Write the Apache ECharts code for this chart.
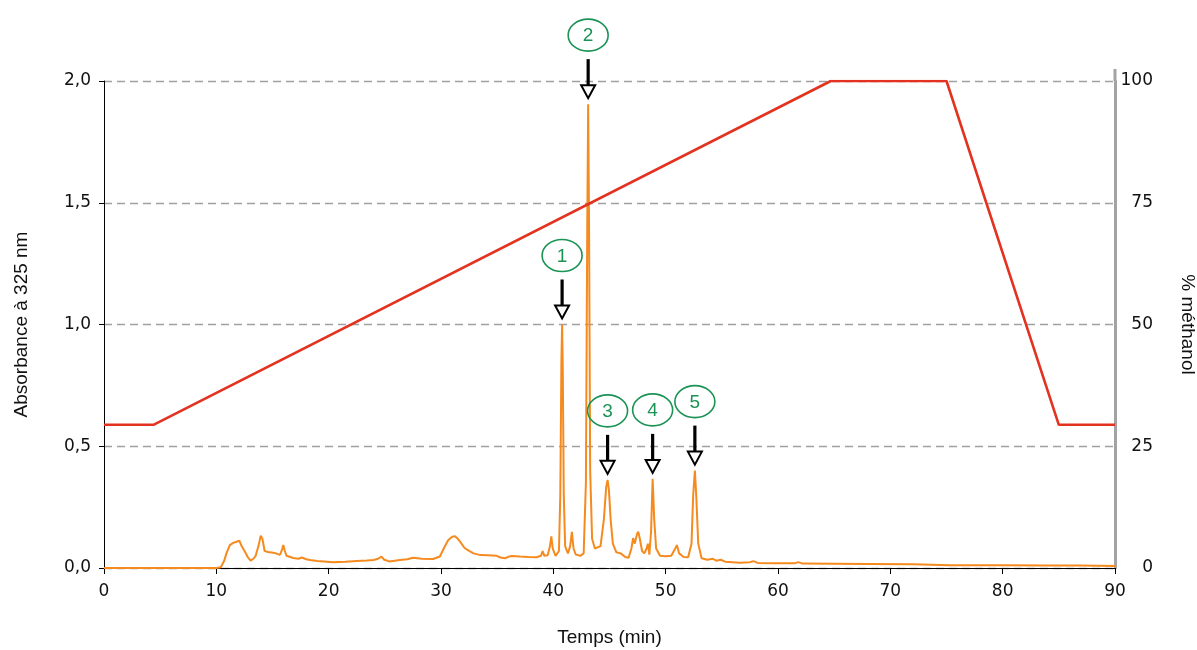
<!DOCTYPE html>
<html>
<head>
<meta charset="utf-8">
<script src="https://cdn.jsdelivr.net/npm/echarts@6/dist/echarts.min.js"></script>
<style>html,body{margin:0;padding:0;background:#fff;}#c{width:1197px;height:650px;}</style>
</head>
<body>
<div id="c"></div>
<script>
// Chromatogram (time in min, absorbance at 325 nm)
const absT = [0,10.0,10.4,10.7,10.9,11.2,11.5,11.8,12.05,12.25,12.55,12.8,13.05,13.3,13.5,13.75,13.95,14.1,14.3,14.6,14.93,15.3,15.66,15.85,15.96,16.1,16.25,16.86,17.3,17.6,18.0,18.34,19.0,20.4,21.5,22.5,23.4,24.0,24.4,24.7,24.95,25.4,26.35,27.0,27.5,28.3,29.3,29.9,30.3,30.65,31.0,31.25,31.5,31.7,32.1,32.5,32.9,33.5,34.2,34.95,35.3,35.7,36.0,36.3,37.0,37.8,38.5,38.9,39.05,39.2,39.5,39.7,39.82,39.95,40.2,40.5,40.62,40.72,40.78,40.84,40.93,41.05,41.3,41.5,41.65,41.8,42.0,42.4,42.7,42.9,43.02,43.1,43.18,43.28,43.45,43.7,44.2,44.5,44.7,44.83,44.95,45.1,45.3,45.6,46.0,46.4,46.7,46.95,47.1,47.25,47.45,47.56,47.7,47.9,48.1,48.3,48.42,48.55,48.7,48.84,48.98,49.15,49.5,50.0,50.5,50.85,51.0,51.2,51.6,52.0,52.3,52.45,52.6,52.72,52.9,53.2,53.7,54.2,54.5,54.9,55.3,56.6,57.5,57.8,58.2,59.6,61.5,61.8,62.2,65.0,68.0,72.0,75.3,80.0,84.0,87.0,90.0];
const absA = [0,0,0.003,0.03,0.06,0.094,0.103,0.108,0.112,0.09,0.067,0.045,0.03,0.038,0.05,0.09,0.133,0.12,0.07,0.066,0.064,0.06,0.054,0.075,0.094,0.07,0.05,0.041,0.038,0.043,0.036,0.033,0.029,0.024,0.026,0.029,0.031,0.033,0.038,0.047,0.034,0.027,0.033,0.036,0.042,0.038,0.037,0.047,0.085,0.115,0.128,0.13,0.12,0.108,0.082,0.07,0.06,0.053,0.052,0.05,0.043,0.04,0.046,0.049,0.047,0.045,0.044,0.05,0.07,0.05,0.052,0.09,0.13,0.08,0.05,0.07,0.3,0.85,1.0,0.82,0.3,0.09,0.06,0.09,0.148,0.08,0.055,0.05,0.06,0.35,1.4,1.905,1.4,0.4,0.12,0.08,0.09,0.2,0.33,0.362,0.32,0.2,0.1,0.065,0.06,0.045,0.042,0.08,0.123,0.1,0.14,0.149,0.12,0.07,0.06,0.08,0.10,0.055,0.15,0.366,0.2,0.08,0.05,0.048,0.05,0.08,0.094,0.06,0.045,0.044,0.1,0.3,0.40,0.3,0.1,0.04,0.034,0.038,0.03,0.034,0.026,0.022,0.024,0.028,0.021,0.019,0.019,0.024,0.018,0.017,0.016,0.015,0.011,0.011,0.010,0.010,0.008];
// Methanol gradient (time in min, % methanol)
const gradT = [0, 4.4, 64.7, 75.0, 85.0, 90];
const gradPct = [29.4, 29.4, 100, 100, 29.4, 29.4];
// Annotated peaks
const peakLabels = ['1', '2', '3', '4', '5'];
const peakTimes = [40.78, 43.1, 44.83, 48.84, 52.6];
const peakHeights = [1.0, 1.905, 0.362, 0.366, 0.40];
// Axis ticks
const xTicks = {min: 0, max: 90, interval: 10};
const yLeftTicks = {min: 0, max: 2, interval: 0.5};
const yRightTicks = {min: 0, max: 100, interval: 25};

const TICKFONT = 'DejaVu Sans';
const TITLEFONT = 'Liberation Sans';
const GREEN = '#1b9355';

const chart = echarts.init(document.getElementById('c'), null, {renderer: 'canvas'});
const option = {
  animation: false,
  backgroundColor: '#fff',
  grid: {left: 104, right: 82, top: 81, bottom: 82, containLabel: false, outerBoundsMode: 'none'},
  xAxis: {
    type: 'value', min: xTicks.min, max: xTicks.max, interval: xTicks.interval,
    name: 'Temps (min)', nameLocation: 'middle', nameGap: 60,
    nameTextStyle: {fontFamily: TITLEFONT, fontSize: 19, color: '#111'},
    axisLine: {lineStyle: {color: '#000', width: 1}},
    axisTick: {show: true, length: 6, lineStyle: {color: '#000'}},
    axisLabel: {fontFamily: TICKFONT, fontSize: 17, color: '#111', margin: 15},
    splitLine: {show: false}
  },
  yAxis: [{
    type: 'value', min: yLeftTicks.min, max: yLeftTicks.max, interval: yLeftTicks.interval,
    name: 'Absorbance à 325 nm', nameLocation: 'middle', nameGap: 73,
    nameTextStyle: {fontFamily: TITLEFONT, fontSize: 19, color: '#111'},
    axisLine: {show: true, lineStyle: {color: '#000', width: 1}},
    axisTick: {show: true, length: 5, lineStyle: {color: '#000'}},
    axisLabel: {fontFamily: TICKFONT, fontSize: 17, color: '#111', margin: 13,
      formatter: v => v.toFixed(1).replace('.', ',')},
    splitLine: {show: true, lineStyle: {color: '#a0a0a0', width: 1.3, type: [8, 5]}}
  }, {
    type: 'value', position: 'right', min: yRightTicks.min, max: yRightTicks.max, interval: yRightTicks.interval,
    name: '% méthanol', nameLocation: 'middle', nameGap: 63, nameRotate: -90,
    nameTextStyle: {fontFamily: TITLEFONT, fontSize: 19, color: '#111'},
    axisLine: {show: true, lineStyle: {color: '#a3a3a3', width: 3}},
    axisTick: {show: false},
    axisLabel: {fontFamily: TICKFONT, fontSize: 17, color: '#111', margin: 38, align: 'right'},
    splitLine: {show: false}
  }],
  series: [{
    type: 'line', name: 'Absorbance', xAxisIndex: 0, yAxisIndex: 0,
    data: absT.map((t, i) => [t, absA[i]]),
    showSymbol: false, symbol: 'none',
    lineStyle: {color: '#f58a1f', width: 2},
    z: 3
  }, {
    type: 'line', name: 'Méthanol', xAxisIndex: 0, yAxisIndex: 1,
    data: gradT.map((t, i) => [t, gradPct[i]]),
    showSymbol: false, symbol: 'none',
    lineStyle: {color: '#e3321f', width: 2.6},
    z: 4
  }, {
    type: 'custom', name: 'Pics', xAxisIndex: 0, yAxisIndex: 0, clip: false, z: 10,
    data: peakTimes.map((t, i) => [t, peakHeights[i]]),
    renderItem: function (params, api) {
      const p = api.coord([api.value(0), api.value(1)]);
      const x = p[0];
      const tip = p[1] - 6;
      return {type: 'group', children: [
        {type: 'ellipse', shape: {cx: x, cy: tip - 63, rx: 20, ry: 16},
          style: {fill: null, stroke: GREEN, lineWidth: 1.6}},
        {type: 'text', style: {text: peakLabels[params.dataIndex], x: x, y: tip - 62,
          align: 'center', verticalAlign: 'middle', font: '19px "Liberation Sans"', fill: GREEN}},
        {type: 'line', shape: {x1: x, y1: tip - 39, x2: x, y2: tip - 12},
          style: {stroke: '#000', lineWidth: 3.2}},
        {type: 'polygon', shape: {points: [[x - 7, tip - 13], [x + 7, tip - 13], [x, tip]]},
          style: {fill: '#fff', stroke: '#000', lineWidth: 2}}
      ]};
    }
  }]
};
chart.setOption(option);
// slight extension of the right axis bar above the plot top
const axisTopPx = chart.convertToPixel({gridIndex: 0}, [xTicks.max, yLeftTicks.max]);
chart.setOption({graphic: [{type: 'line', shape: {x1: axisTopPx[0], y1: axisTopPx[1] - 12, x2: axisTopPx[0], y2: axisTopPx[1]},
  style: {stroke: '#a3a3a3', lineWidth: 3}}]});
</script>
</body>
</html>
